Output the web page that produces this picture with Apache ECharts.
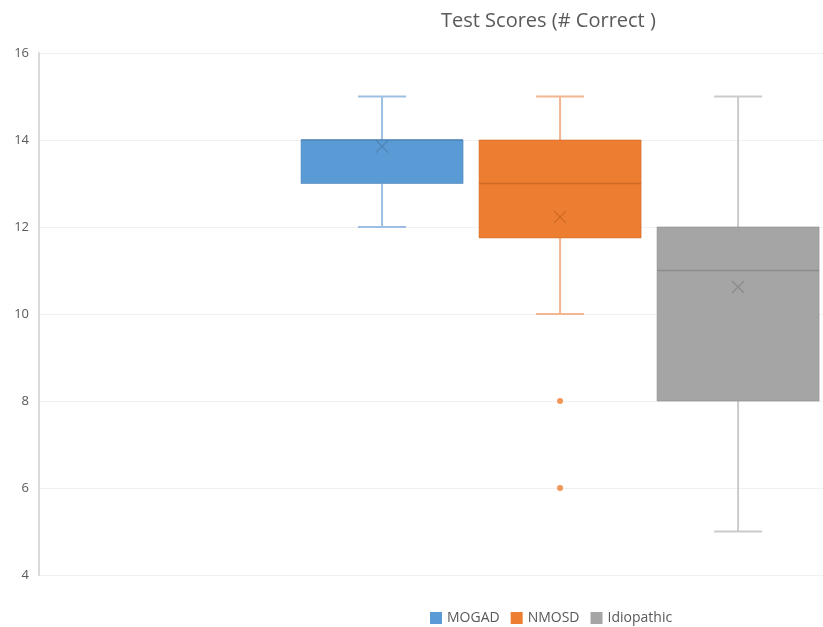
<!DOCTYPE html>
<html>
<head>
    <meta charset="utf-8" />
    <title>Test Scores (# Correct )</title>
    <script src="https://cdn.jsdelivr.net/npm/echarts@6/dist/echarts.min.js"></script>
    <style>
        html, body { margin: 0; padding: 0; background: #fff; }
        #chart { width: 823px; height: 627px; }
    </style>
</head>
<body>
    <div id="chart"></div>
    <script type="text/javascript">

        // box statistics
        var groups = ['MOGAD', 'NMOSD', 'Idiopathic'];
        var mins = [12, 10, 5];
        var q1s = [13, 11.75, 8];
        var medians = [14, 13, 11];
        var q3s = [14, 14, 12];
        var maxs = [15, 15, 15];
        var means = [13.85, 12.23, 10.62];
        var nmosdOutliers = [8, 6];
        var yTicks = [4, 6, 8, 10, 12, 14, 16];

        // styles per group
        var fills = ['#5b9bd5', '#ed7d31', '#a5a5a5'];
        var whiskers = ['#9cbfe3', '#f3b690', '#cbcbcb'];
        var darks = ['#4f86b8', '#cf6a24', '#8c8c8c'];

        function renderBox(gi) {
            return function (params, api) {
                var x = api.value(0);
                var pMin = api.coord([x, api.value(1)]);
                var pQ1 = api.coord([x, api.value(2)]);
                var pMed = api.coord([x, api.value(3)]);
                var pQ3 = api.coord([x, api.value(4)]);
                var pMax = api.coord([x, api.value(5)]);
                var pMean = api.coord([x, api.value(6)]);
                var half = 81, cap = 24, xs = 6;
                var wst = { stroke: whiskers[gi], lineWidth: 2 };
                return {
                    type: 'group',
                    children: [
                        { type: 'line', shape: { x1: pMax[0], y1: pMax[1], x2: pQ3[0], y2: pQ3[1] }, style: wst },
                        { type: 'line', shape: { x1: pQ1[0], y1: pQ1[1], x2: pMin[0], y2: pMin[1] }, style: wst },
                        { type: 'line', shape: { x1: pMax[0] - cap, y1: pMax[1], x2: pMax[0] + cap, y2: pMax[1] }, style: wst },
                        { type: 'line', shape: { x1: pMin[0] - cap, y1: pMin[1], x2: pMin[0] + cap, y2: pMin[1] }, style: wst },
                        {
                            type: 'rect',
                            shape: { x: pQ3[0] - half, y: pQ3[1], width: half * 2, height: pQ1[1] - pQ3[1] },
                            style: { fill: fills[gi], stroke: darks[gi], lineWidth: 0.6 }
                        },
                        { type: 'line', shape: { x1: pMed[0] - half, y1: pMed[1], x2: pMed[0] + half, y2: pMed[1] }, style: { stroke: darks[gi], lineWidth: 1.5 } },
                        { type: 'line', shape: { x1: pMean[0] - xs, y1: pMean[1] - xs, x2: pMean[0] + xs, y2: pMean[1] + xs }, style: { stroke: darks[gi], lineWidth: 1.3 } },
                        { type: 'line', shape: { x1: pMean[0] - xs, y1: pMean[1] + xs, x2: pMean[0] + xs, y2: pMean[1] - xs }, style: { stroke: darks[gi], lineWidth: 1.3 } }
                    ]
                };
            };
        }

        var series = groups.map(function (g, i) {
            return {
                name: g,
                type: 'custom',
                renderItem: renderBox(i),
                itemStyle: { color: fills[i] },
                encode: { x: 0, y: [1, 2, 3, 4, 5, 6] },
                data: [[i + 1, mins[i], q1s[i], medians[i], q3s[i], maxs[i], means[i]]],
                z: 2
            };
        });

        series.push({
            name: 'NMOSD',
            type: 'scatter',
            symbol: 'circle',
            symbolSize: 6,
            itemStyle: { color: fills[1] },
            data: nmosdOutliers.map(function (v) { return [2, v]; }),
            z: 3
        });

        var chart = echarts.init(document.getElementById('chart'));

        var option = {
            animation: false,
            title: {
                text: 'Test Scores (# Correct )',
                left: 436,
                top: 6,
                textStyle: { fontFamily: 'Open Sans', fontSize: 20, fontWeight: 'normal', color: '#595959' }
            },
            legend: {
                data: groups,
                left: 425,
                top: 606,
                icon: 'rect',
                itemWidth: 12,
                itemHeight: 12,
                itemGap: 11,
                textStyle: { fontFamily: 'Open Sans', fontSize: 14, color: '#595959' }
            },
            grid: { left: 39, right: 0, top: 53, bottom: 52 },
            xAxis: {
                type: 'value',
                min: -0.927,
                max: 3.477,
                show: false
            },
            yAxis: {
                type: 'value',
                min: yTicks[0],
                max: yTicks[yTicks.length - 1],
                interval: 2,
                axisLine: { show: true, onZero: false, lineStyle: { color: '#d9d9d9', width: 2 } },
                axisTick: { show: false },
                axisLabel: { fontFamily: 'Open Sans', fontSize: 13, color: '#595959', margin: 10 },
                splitLine: { lineStyle: { color: '#f0f0f0' } }
            },
            series: series
        };

        chart.setOption(option);
    </script>
</body>
</html>
